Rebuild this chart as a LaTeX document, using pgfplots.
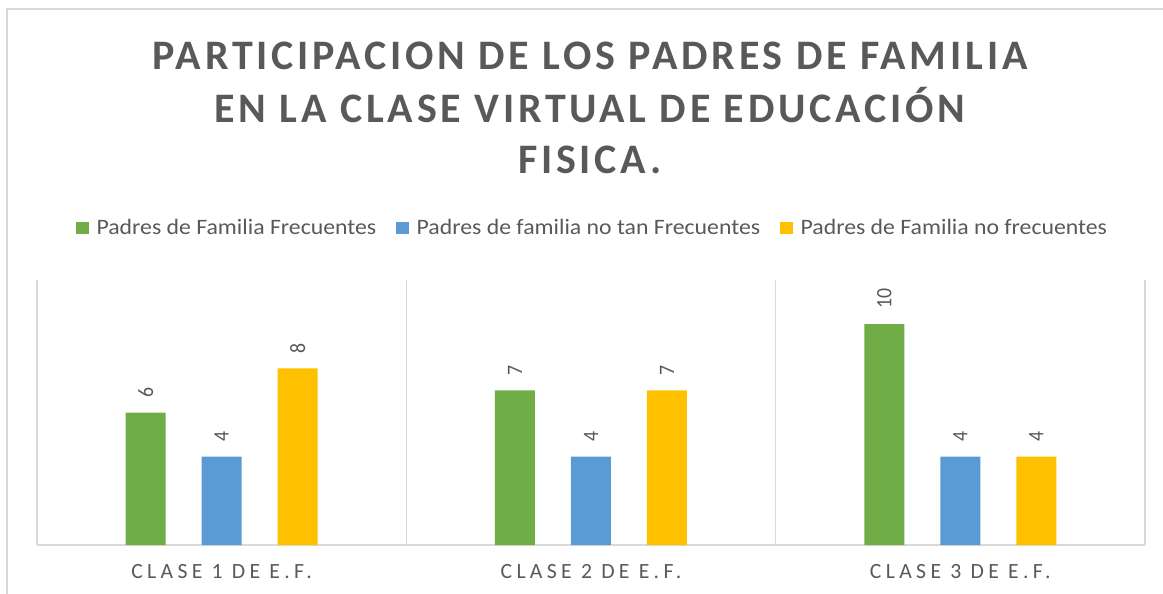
\documentclass[border=0pt]{standalone}
\usepackage{pgfplots}
\pgfplotsset{compat=1.18}
\usepackage{fontspec}
\setmainfont{Carlito}
\newfontfamily\titlefont[LetterSpace=9]{Carlito}
\newfontfamily\legfont[FakeStretch=1.08]{Carlito}
\newfontfamily\catfont[LetterSpace=20]{Carlito}
\newfontfamily\lblfont[FakeStretch=0.9]{Carlito}
\definecolor{txt}{HTML}{595959}
\definecolor{gridc}{HTML}{D9D9D9}
\definecolor{cgreen}{HTML}{70AD47}
\definecolor{cblue}{HTML}{5B9BD5}
\definecolor{cyellow}{HTML}{FFC000}
\begin{document}
\begin{tikzpicture}[x=1pt,y=1pt]
\path[use as bounding box] (0,0) rectangle (1163,-594);
\draw[gridc, line width=1.5pt] (7,-594) -- (7,-9) -- (1163,-9);
\node[anchor=base, text=txt, inner sep=0pt] at (590,-70) {\titlefont\bfseries\fontsize{42}{50}\selectfont PARTICIPACION DE LOS PADRES DE FAMILIA};
\node[anchor=base, text=txt, inner sep=0pt] at (590,-122) {\titlefont\bfseries\fontsize{42}{50}\selectfont EN LA CLASE VIRTUAL DE EDUCACIÓN};
\node[anchor=base, text=txt, inner sep=0pt] at (590,-173) {\titlefont\bfseries\fontsize{42}{50}\selectfont FISICA.};
\begin{axis}[
  at={(37pt,-545pt)}, anchor=south west,
  scale only axis, width=1108pt, height=265pt,
  xmin=-0.5, xmax=2.5, ymin=0, ymax=12,
  axis x line=bottom, axis y line=none,
  x axis line style={draw=gridc, line width=1.2pt, -},
  xtick={0,1,2},
  xticklabels={CLASE 1 DE E.F., CLASE 2 DE E.F., CLASE 3 DE E.F.},
  major tick length=0pt,
  xticklabel style={font=\catfont\fontsize{21.7}{26}\selectfont, text=txt, inner sep=0pt, anchor=north, yshift=-19pt},
  extra x ticks={-0.5,0.5,1.5,2.5},
  extra x tick labels={},
  extra x tick style={grid=major, major grid style={draw=gridc, line width=1.2pt}},
  ytick=\empty,
  ybar=36pt, bar width=40pt,
  /pgf/number format/assume math mode=true,
  nodes near coords,
  every node near coord/.append style={font=\lblfont\fontsize{22}{26}\selectfont, text=txt, rotate=90, anchor=west, inner xsep=15pt, inner ysep=0pt},
  legend columns=3,
  legend style={at={(0.5014,1.196)}, anchor=center, draw=none, fill=none,
    font=\legfont\fontsize{22}{26}\selectfont, text=txt,
    /tikz/every odd column/.append style={column sep=6pt},
    /tikz/every even column/.append style={column sep=18pt}},
  legend image code/.code={\fill[#1,draw=none] (0pt,-6.3pt) rectangle (12.5pt,6.3pt);},
]
\addplot[fill=cgreen, draw=none] coordinates {(0,6) (1,7) (2,10)};
\addplot[fill=cblue, draw=none] coordinates {(0,4) (1,4) (2,4)};
\addplot[fill=cyellow, draw=none] coordinates {(0,8) (1,7) (2,4)};
\legend{Padres de Familia Frecuentes, Padres de familia no tan Frecuentes, Padres de Familia no frecuentes}
\end{axis}
\end{tikzpicture}
\end{document}
